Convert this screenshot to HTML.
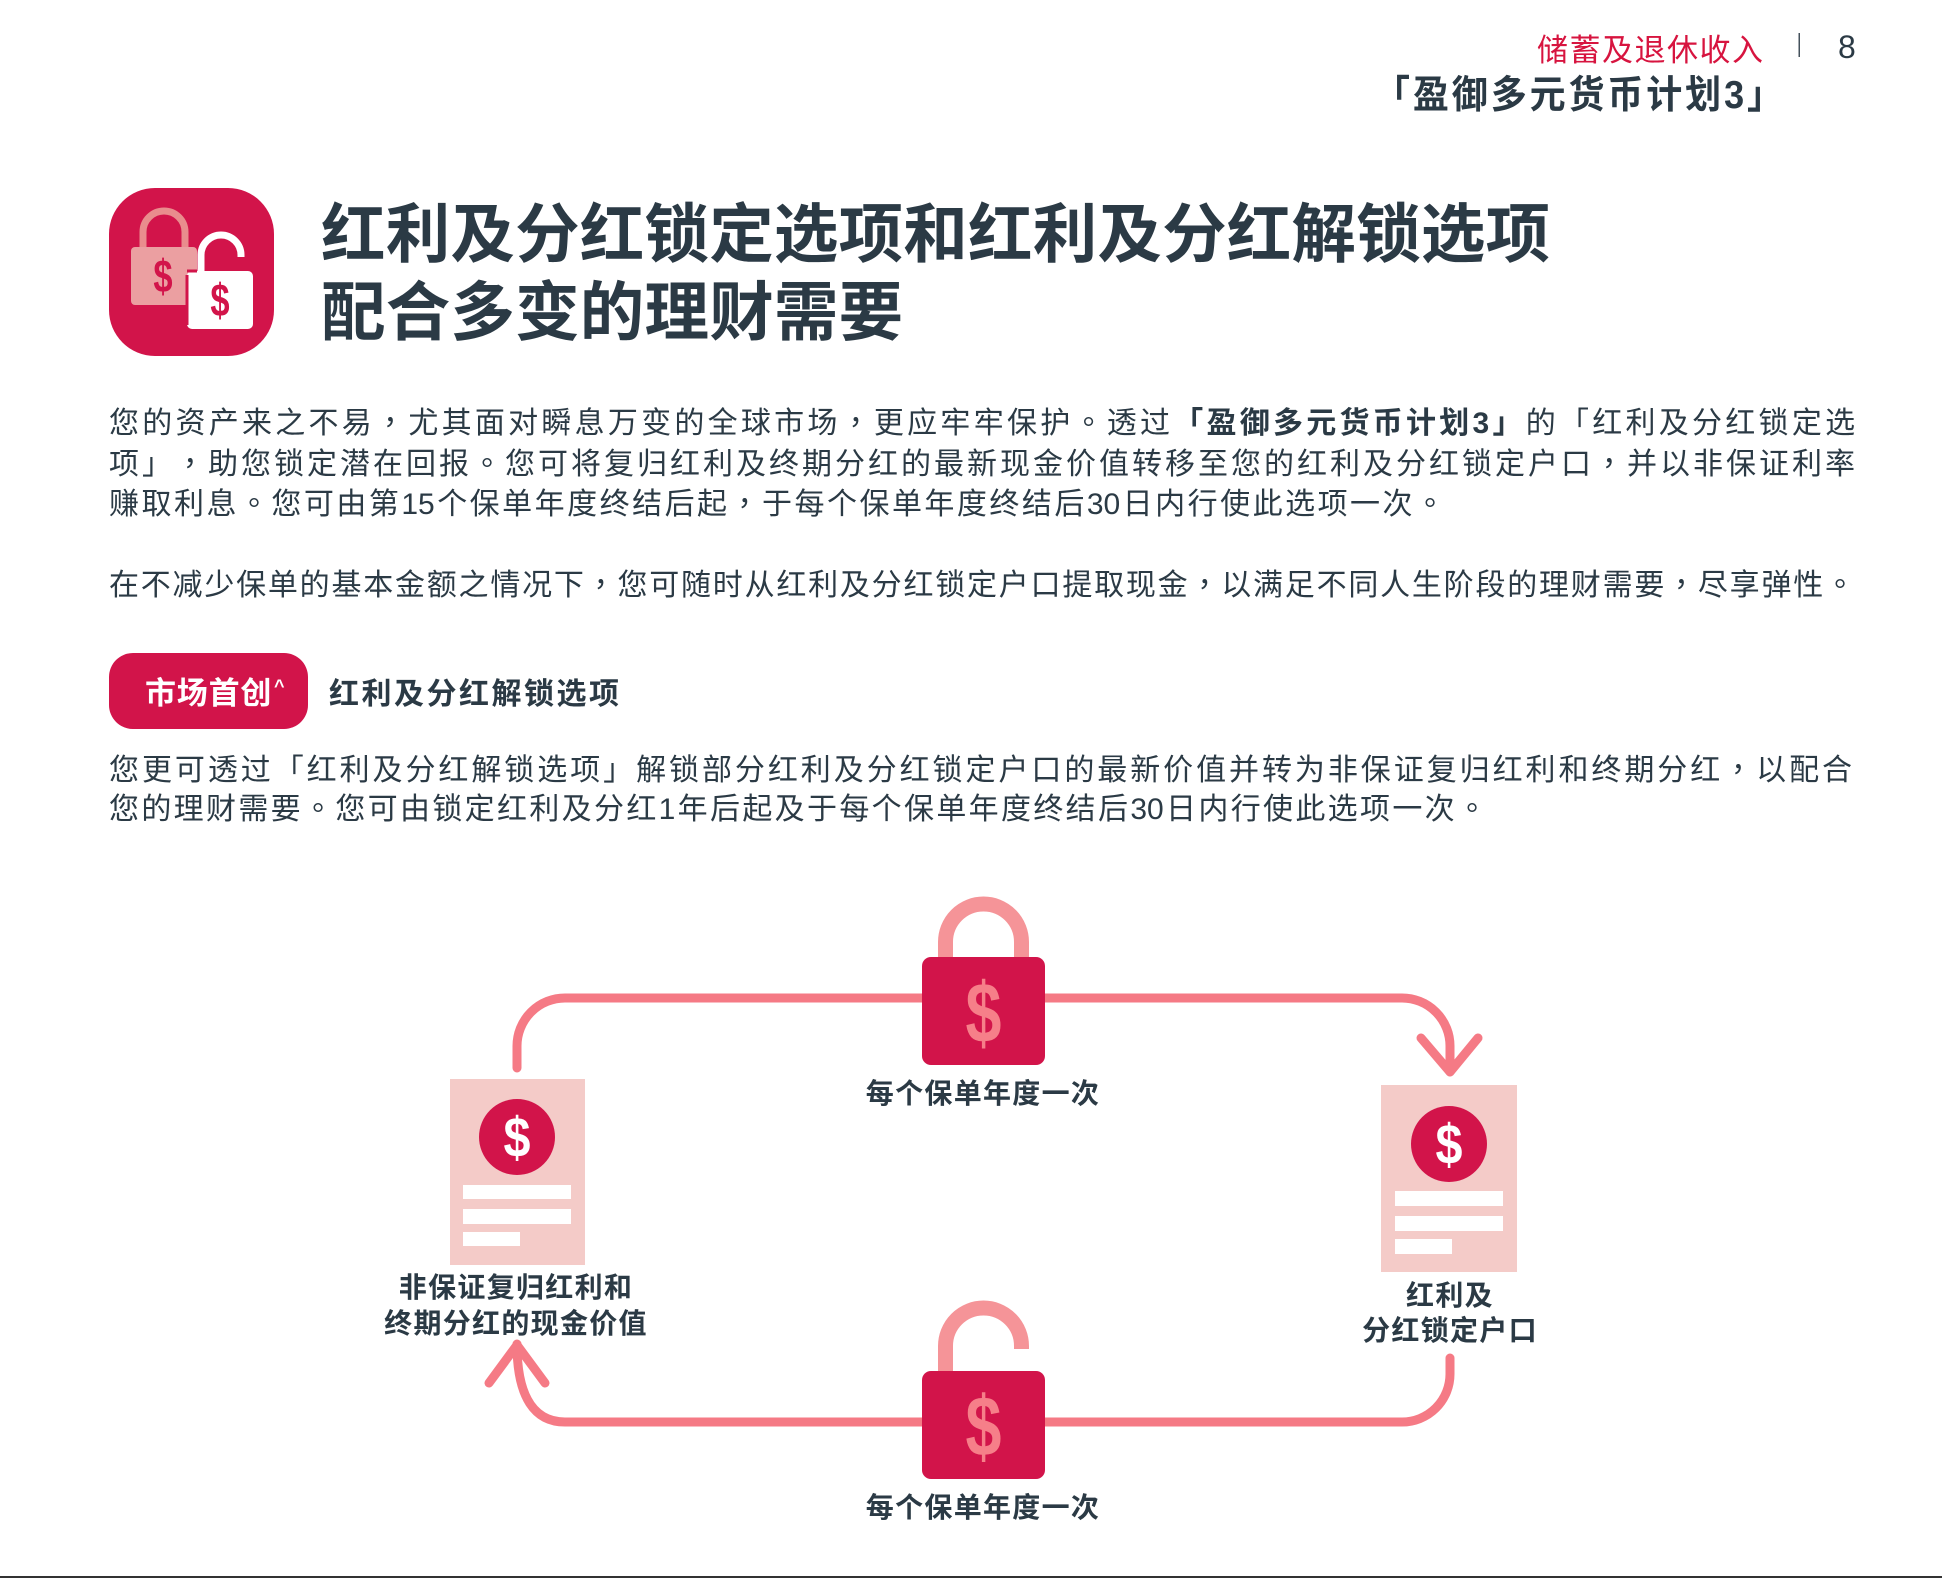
<!DOCTYPE html>
<html lang="zh-CN"><head><meta charset="utf-8"><title>红利及分红锁定选项</title>
<style>
html,body{margin:0;padding:0;background:#fff}
#p{position:relative;width:1942px;height:1578px;overflow:hidden;background:#fff;font-family:"Liberation Sans","Noto Sans CJK SC",sans-serif;color:#2b3a45;text-spacing-trim:space-all}
.t{position:absolute;height:44px;line-height:44px;font-size:30px;text-align:justify;text-align-last:justify;font-weight:400}
.l{position:absolute;text-align:center;font-weight:700;font-size:28px;line-height:40px;height:40px;white-space:nowrap;letter-spacing:1.300px}
.p{font-family:"Noto Sans CJK TC",sans-serif;line-height:0}
svg{position:absolute;left:0;top:0}
</style></head><body><div id="p">
<svg width="1942" height="1578" viewBox="0 0 1942 1578">
<rect x="109" y="188" width="165" height="168" rx="46" fill="#d2144a"/>
<path d="M143 247V232a21 21 0 0 1 42 0V247" fill="none" stroke="#e98d8d" stroke-width="7"/>
<rect x="131" y="247" width="66" height="58" rx="4" fill="#eb9fa1"/>
<text transform="translate(163 292) scale(.75 1)" font-family="Liberation Sans" font-weight="700" font-size="46" text-anchor="middle" fill="#d2144a">$</text>
<path d="M201 271V255a20 20 0 0 1 40 0V257" fill="none" stroke="#fff" stroke-width="7"/>
<rect x="187" y="271" width="66" height="58" rx="5" fill="#fff"/>
<path d="M187 275v50M187 271h10" stroke="#d2144a" stroke-width="3" fill="none"/>
<text transform="translate(220 316) scale(.75 1)" font-family="Liberation Sans" font-weight="700" font-size="46" text-anchor="middle" fill="#d2144a">$</text>

<g fill="none" stroke="#f57a85" stroke-width="9" stroke-linecap="round" stroke-linejoin="round">
<path d="M517 1068V1046a48 48 0 0 1 48-48H1402a48 48 0 0 1 48 48V1072"/>
<path d="M1421 1038L1450 1072L1478 1038"/>
<path d="M1450 1358V1374a48 48 0 0 1-48 48H565c-30 0-48-24-48-78"/>
<path d="M489 1383L517 1345L545 1383"/>
</g>

<path d="M945.500 957V942a38 38 0 0 1 76 0V957" fill="none" stroke="#f59498" stroke-width="15"/>
<rect x="922" y="957" width="123" height="108" rx="9" fill="#d2144a"/>
<text transform="translate(983.500 1042) scale(.76 1)" font-family="Liberation Sans" font-weight="700" font-size="85" text-anchor="middle" fill="#f67f89">$</text>

<path d="M945.500 1371V1346a38 38 0 0 1 76 0V1349" fill="none" stroke="#f59498" stroke-width="15"/>
<rect x="922" y="1371" width="123" height="108" rx="9" fill="#d2144a"/>
<text transform="translate(983.500 1455.500) scale(.76 1)" font-family="Liberation Sans" font-weight="700" font-size="85" text-anchor="middle" fill="#f67f89">$</text>

<rect x="450" y="1079" width="135" height="186" fill="#f4cbc8"/>
<circle cx="517" cy="1137" r="38" fill="#d2144a"/>
<text transform="translate(517 1157) scale(.85 1)" font-family="Liberation Sans" font-weight="700" font-size="57" text-anchor="middle" fill="#fff">$</text>
<rect x="463" y="1185" width="108" height="14" fill="#fff"/><rect x="463" y="1209" width="108" height="15" fill="#fff"/><rect x="463" y="1232" width="57" height="14" fill="#fff"/>

<rect x="1381" y="1085" width="136" height="187" fill="#f4cbc8"/>
<circle cx="1449" cy="1144" r="38" fill="#d2144a"/>
<text transform="translate(1449 1164) scale(.85 1)" font-family="Liberation Sans" font-weight="700" font-size="57" text-anchor="middle" fill="#fff">$</text>
<rect x="1395" y="1191" width="108" height="15" fill="#fff"/><rect x="1395" y="1216" width="108" height="15" fill="#fff"/><rect x="1395" y="1239" width="57" height="15" fill="#fff"/>

<rect x="109" y="653" width="199" height="76" rx="24" fill="#d2144a"/>
<rect x="1798.500" y="33" width="1.500" height="24" fill="#44525c"/>
<rect x="0" y="1576" width="1942" height="2" fill="#333"/>
</svg>

<div class="t" style="left:1537px;top:28.500px;width:226px;font-size:31px;color:#d7143f">储蓄及退休收入</div>
<div style="position:absolute;left:1838px;top:25px;font-size:32px;line-height:44px;color:#2b3a45">8</div>
<div class="t" style="left:1374px;top:73px;width:409px;font-size:36px;font-weight:700;transform:scaleY(1.08)">「盈御多元货币计划3」</div>

<div style="position:absolute;left:321px;top:195.500px;font-size:64.500px;line-height:78px;font-weight:700;white-space:nowrap;letter-spacing:.2px">红利及分红锁定选项和红利及分红解锁选项<br>配合多变的理财需要</div>

<div class="t" style="left:109px;top:401.500px;width:1746px">您的资产来之不易<span class="p" lang="zh-TW">，</span>尤其面对瞬息万变的全球市场<span class="p" lang="zh-TW">，</span>更应牢牢保护<span class="p" lang="zh-TW">。</span>透过<b>「盈御多元货币计划3」</b>的「红利及分红锁定选</div>
<div class="t" style="left:109px;top:442.500px;width:1746px">项」<span class="p" lang="zh-TW">，</span>助您锁定潜在回报<span class="p" lang="zh-TW">。</span>您可将复归红利及终期分红的最新现金价值转移至您的红利及分红锁定户口<span class="p" lang="zh-TW">，</span>并以非保证利率</div>
<div class="t" style="left:109px;top:482.500px;width:1336px">赚取利息<span class="p" lang="zh-TW">。</span>您可由第15个保单年度终结后起<span class="p" lang="zh-TW">，</span>于每个保单年度终结后30日内行使此选项一次<span class="p" lang="zh-TW">。</span></div>
<div class="t" style="left:109px;top:563.500px;width:1746px">在不减少保单的基本金额之情况下<span class="p" lang="zh-TW">，</span>您可随时从红利及分红锁定户口提取现金<span class="p" lang="zh-TW">，</span>以满足不同人生阶段的理财需要<span class="p" lang="zh-TW">，</span>尽享弹性<span class="p" lang="zh-TW">。</span></div>

<div style="position:absolute;left:145px;top:672px;font-size:31px;line-height:44px;font-weight:700;color:#fff;white-space:nowrap;letter-spacing:.8px">市场首创<span style="position:absolute;left:129px;top:-8px;font-size:18px">^</span></div>
<div class="t" style="left:329px;top:672.500px;width:290px;font-weight:700">红利及分红解锁选项</div>

<div class="t" style="left:109px;top:748.500px;width:1743px">您更可透过「红利及分红解锁选项」解锁部分红利及分红锁定户口的最新价值并转为非保证复归红利和终期分红<span class="p" lang="zh-TW">，</span>以配合</div>
<div class="t" style="left:109px;top:787.500px;width:1378px">您的理财需要<span class="p" lang="zh-TW">。</span>您可由锁定红利及分红1年后起及于每个保单年度终结后30日内行使此选项一次<span class="p" lang="zh-TW">。</span></div>

<div class="l" style="left:783px;width:400px;top:1073.500px">每个保单年度一次</div>
<div class="l" style="left:783px;width:400px;top:1487.500px">每个保单年度一次</div>
<div class="l" style="left:316px;width:400px;top:1268px">非保证复归红利和</div>
<div class="l" style="left:316px;width:400px;top:1304px">终期分红的现金价值</div>
<div class="l" style="left:1250px;width:400px;top:1276px">红利及</div>
<div class="l" style="left:1250px;width:400px;top:1311px">分红锁定户口</div>
</div></body></html>
